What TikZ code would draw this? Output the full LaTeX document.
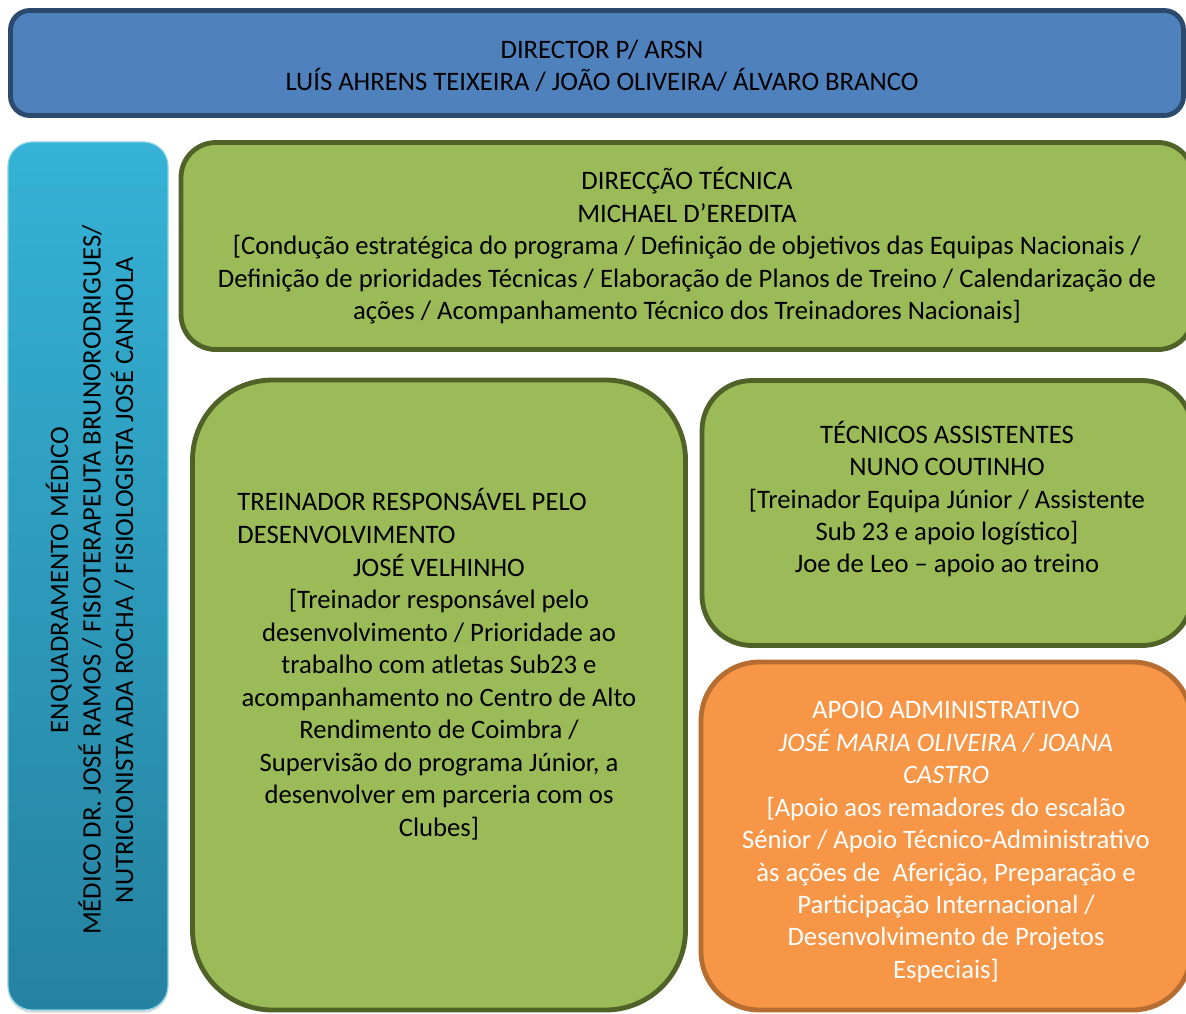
\documentclass[tikz,border=0pt]{standalone}
\usepackage{fontspec}
\setmainfont{Carlito}
\usetikzlibrary{positioning,shadows}
\definecolor{dirblue}{HTML}{4F81BD}
\definecolor{dirline}{HTML}{2C4A6E}
\definecolor{medtop}{HTML}{35B2D6}
\definecolor{medbot}{HTML}{2682A0}
\definecolor{tecgreen}{HTML}{9BBB59}
\definecolor{tecline}{HTML}{4F6228}
\definecolor{admorange}{HTML}{F79646}
\definecolor{admline}{HTML}{B66D31}
\tikzset{
  boxsize/.style 2 args={minimum width=#1*0.4125pt, minimum height=#2*0.4125pt},
  panel/.style={
    rectangle,
    line width=2pt,
    inner sep=0pt,
    align=center,
    font=\fontsize{11}{13.4}\selectfont},
  topbox/.style={panel, fill=dirblue, draw=dirline, rounded corners=8pt},
  medbox/.style={
    panel,
    top color=medtop,
    bottom color=medbot,
    draw=medtop!60!white, line width=0.5pt,
    rounded corners=10pt,
    drop shadow={shadow xshift=0pt, shadow yshift=-1.2pt, opacity=0.25}},
  greenbox/.style={panel, fill=tecgreen, draw=tecline},
  admbox/.style={panel, fill=admorange, draw=admline, rounded corners=24pt},
  boxtext/.style={inner sep=0pt, align=center, font=\fontsize{11}{13.4}\selectfont},
}

\begin{document}
\begin{tikzpicture}[x=0.4125pt, y=-0.4125pt]
  \useasboundingbox (0,0) rectangle (1186,1013);

  % top: direction
  \node[topbox, boxsize={1173}{105}] (director) at (597,63) {};
  \node[boxtext] (dirtxt) at (602,66)
    {DIRECTOR P/ ARSN\\LUÍS AHRENS TEIXEIRA / JOÃO OLIVEIRA/ ÁLVARO BRANCO};

  % left bar: medical staff
  \node[medbox, boxsize={160}{868}] (medico) at (88,576) {};
  \node[boxtext, rotate=90] (medtxt) at (90,580)
    {ENQUADRAMENTO MÉDICO\\
     MÉDICO DR. JOSÉ RAMOS / FISIOTERAPEUTA BRUNORODRIGUES/\\
     NUTRICIONISTA ADA ROCHA / FISIOLOGISTA JOSÉ CANHOLA};

  % technical direction
  \node[greenbox, rounded corners=14.4pt, boxsize={1012}{207}] (direccao) at (687,246)
    {DIRECÇÃO TÉCNICA\\
     MICHAEL D’EREDITA\\
     {[}Condução estratégica do programa / Definição de objetivos das Equipas Nacionais /\\
     Definição de prioridades Técnicas / Elaboração de Planos de Treino / Calendarização de\\
     ações / Acompanhamento Técnico dos Treinadores Nacionais]};

  % development coach
  \node[greenbox, rounded corners=33pt, boxsize={493}{630}] (treinador) at (439,695) {};
  \node[boxtext, align=left, anchor=west] (treintit) at (237,516)
    {TREINADOR RESPONSÁVEL PELO\\DESENVOLVIMENTO};
  \node[boxtext] (treintxt) at (439,697)
    {JOSÉ VELHINHO\\
     {[}Treinador responsável pelo\\
     desenvolvimento / Prioridade ao\\
     trabalho com atletas Sub23 e\\
     acompanhamento no Centro de Alto\\
     Rendimento de Coimbra /\\
     Supervisão do programa Júnior, a\\
     desenvolver em parceria com os\\
     Clubes]};

  % assistants
  \node[greenbox, rounded corners=20.6pt, boxsize={490}{265}] (tecnicos) at (947,513) {};
  \node[boxtext] (tectxt) at (947,499)
    {TÉCNICOS ASSISTENTES\\
     NUNO COUTINHO\\
     {[}Treinador Equipa Júnior / Assistente\\
     Sub 23 e apoio logístico]\\
     Joe de Leo – apoio ao treino};

  % administrative support
  \node[admbox, boxsize={490}{348}] (apoio) at (946,836) {};
  \node[boxtext, text=white] (apoiotxt) at (946,842)
    {APOIO ADMINISTRATIVO\\
     \textit{JOSÉ MARIA OLIVEIRA / JOANA}\\
     \textit{CASTRO}\\
     {[}Apoio aos remadores do escalão\\
     Sénior / Apoio Técnico-Administrativo\\
     às ações de\ \ Aferição, Preparação e\\
     Participação Internacional /\\
     Desenvolvimento de Projetos\\
     Especiais]};
\end{tikzpicture}
\end{document}
